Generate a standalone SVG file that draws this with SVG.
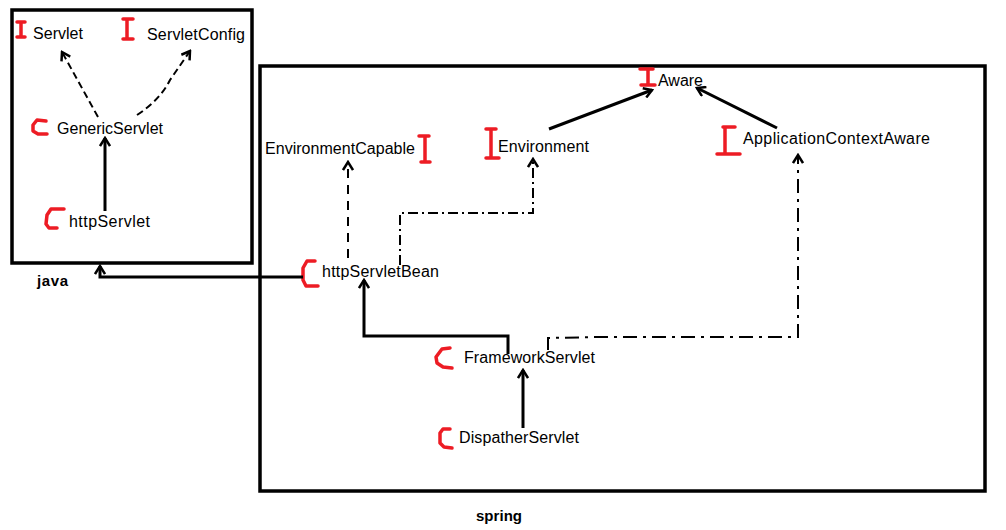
<svg xmlns="http://www.w3.org/2000/svg" width="1006" height="530" viewBox="0 0 1006 530">
<style>
text{font-family:"Liberation Sans",Arial,sans-serif;font-size:16px;fill:#000}
.b{font-weight:bold;font-size:15px}
.box{fill:none;stroke:#000;stroke-width:3.5}
.mk{fill:none;stroke:#ed1c24;stroke-width:3.5;stroke-linecap:round;stroke-linejoin:round}
.s{fill:none;stroke:#000;stroke-width:3}
.d{fill:none;stroke:#000;stroke-width:2;stroke-dasharray:7 4}
.dd{fill:none;stroke:#000;stroke-width:2;stroke-dasharray:10 4 2 4}
</style>
<defs>
<marker id="ah" viewBox="0 0 12 12" refX="10" refY="6" markerWidth="12" markerHeight="12" orient="auto" markerUnits="userSpaceOnUse">
<path d="M2,1 L10,6 L2,11" fill="none" stroke="#000" stroke-width="2.5"/>
</marker>
</defs>
<rect width="1006" height="530" fill="#fff"/>
<g id="java-box"><rect class="box" x="12" y="10" width="240" height="253"/><text class="b" x="37" y="286" textLength="31">java</text></g>
<g id="spring-box"><rect class="box" x="260" y="66" width="725" height="425"/><text class="b" x="476" y="521" textLength="46">spring</text></g>
<g id="Servlet"><path class="mk" d="M17,22 H25 M21,22 V37 M17,37 H25"/><text x="33" y="39" textLength="50">Servlet</text></g>
<g id="ServletConfig"><path class="mk" d="M123,19 H133 M127,19 V39 M123,39 H133"/><text x="147" y="40" textLength="98">ServletConfig</text></g>
<g id="GenericServlet"><path class="mk" d="M46,121 L37,120 L33,125 L33,131 L38,134 L47,134"/><text x="57" y="134" textLength="106">GenericServlet</text></g>
<g id="httpServlet"><path class="mk" d="M64,209 L51,209 L47,215 L46,224 L49,228 L57,228"/><text x="69" y="227" textLength="81">httpServlet</text></g>
<g id="EnvironmentCapable"><text x="265" y="154" textLength="150">EnvironmentCapable</text><path class="mk" d="M419,136 H429 M425,136 V162 M421,162 H430"/></g>
<g id="Environment"><path class="mk" d="M486,129 H496 M491,129 V158 M486,158 H499"/><text x="498" y="152" textLength="91">Environment</text></g>
<g id="Aware"><path class="mk" d="M640,69 H653 M648,69 V84 M641,85 H655"/><text x="658" y="86" textLength="45">Aware</text></g>
<g id="ApplicationContextAware"><path class="mk" d="M723,127 H735 M725,127 V153 M717,154 H740"/><text x="743" y="144" textLength="187">ApplicationContextAware</text></g>
<g id="httpServletBean"><path class="mk" d="M315,261 L307,261 L303,268 L303,280 L306,286 L318,286"/><text x="322" y="277" textLength="117">httpServletBean</text></g>
<g id="FrameworkServlet"><path class="mk" d="M450,348 L442,349 L436,357 L437,363 L443,367 L452,368"/><text x="464" y="363" textLength="131">FrameworkServlet</text></g>
<g id="DispatherServlet"><path class="mk" d="M450,429 L443,429 L440,433 L440,443 L444,447 L452,448"/><text x="459" y="443" textLength="120">DispatherServlet</text></g>
<g id="connectors">
<path class="d" d="M98,117 L62,52" marker-end="url(#ah)"/>
<path class="d" d="M137,115 Q160,100 170,80 L190,51" marker-end="url(#ah)"/>
<path class="s" d="M105,211 V138" marker-end="url(#ah)"/>
<path class="s" d="M303,277 H100 V266" marker-end="url(#ah)"/>
<path class="s" d="M549,129 L652,90" marker-end="url(#ah)"/>
<path class="s" d="M777,128 L697,88" marker-end="url(#ah)"/>
<path class="d" d="M348,258 V162" marker-end="url(#ah)" style="stroke-dasharray:9 7"/>
<path class="dd" d="M400,265 V213 H533 V159" marker-end="url(#ah)"/>
<path class="s" d="M523,428 V370" marker-end="url(#ah)"/>
<path class="s" d="M508,354 V336 H364 V280" marker-end="url(#ah)"/>
<path class="dd" d="M548,350 V338 L600,337 H798 V155" marker-end="url(#ah)" style="stroke-dasharray:14 6 3 6"/>
</g>
</svg>
